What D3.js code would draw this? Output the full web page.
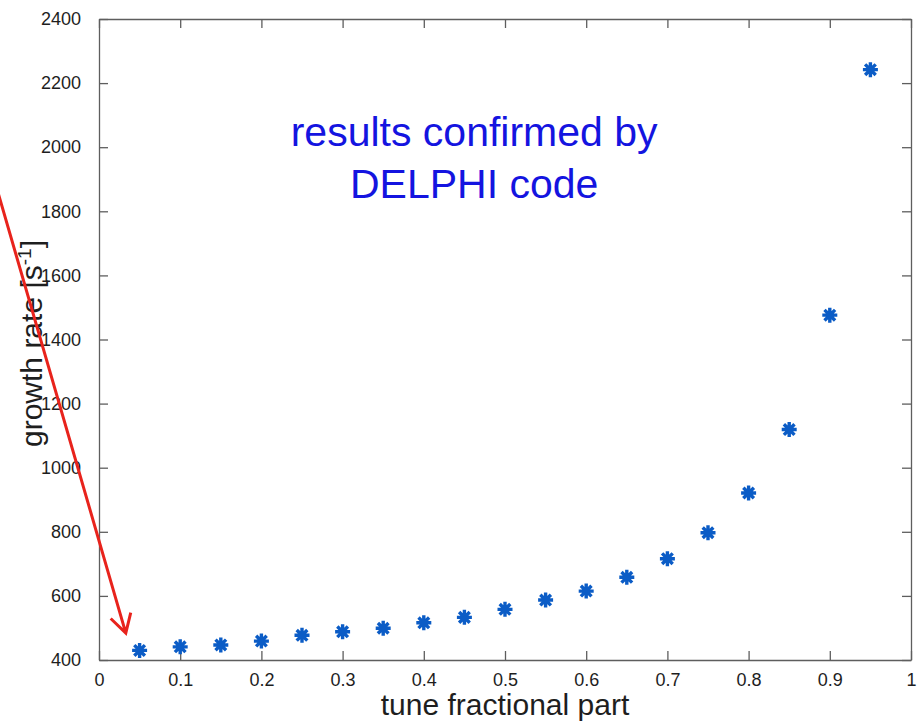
<!DOCTYPE html>
<html>
<head>
<meta charset="utf-8">
<script src="https://cdn.jsdelivr.net/npm/d3@7"></script>
<style>
  body { margin: 0; background: #fff; }
  svg { display: block; font-family: "Liberation Sans", Arial, sans-serif; }
</style>
</head>
<body>
<div id="chart"></div>
<script>
// tune fractional part vs growth rate
const tunes = [0.05, 0.1, 0.15, 0.2, 0.25, 0.3, 0.35, 0.4, 0.45, 0.5, 0.55, 0.6, 0.65, 0.7, 0.75, 0.8, 0.85, 0.9, 0.95];
const growth = [430, 441, 447, 459, 477, 488, 499, 516, 533, 558, 587, 615, 658, 716, 797, 921, 1119, 1476, 2242];
const xTicks = [0, 0.1, 0.2, 0.3, 0.4, 0.5, 0.6, 0.7, 0.8, 0.9, 1];
const yTicks = [400, 600, 800, 1000, 1200, 1400, 1600, 1800, 2000, 2200, 2400];
// red arrow, in data units: start (off the left edge) -> tip
const arrowFrom = [-0.128, 1890];
const arrowTo = [0.033, 484];

const width = 924, height = 728;
const margin = {top: 19, right: 13, bottom: 68, left: 99};
const w = width - margin.left - margin.right;
const h = height - margin.top - margin.bottom;

const svg = d3.select("#chart").append("svg")
    .attr("width", width)
    .attr("height", height);

const g = svg.append("g")
    .attr("transform", `translate(${margin.left},${margin.top})`);

const x = d3.scaleLinear().domain([0, 1]).range([0, w]);
const y = d3.scaleLinear().domain([400, 2400]).range([h, 0]);

const axisColor = "#5e5e5e";
const tickLen = 9;

// axes, matlab style ticks pointing inwards
const xAxis = d3.axisBottom(x).tickValues(xTicks).tickSizeInner(-tickLen).tickSizeOuter(0)
    .tickPadding(13).tickFormat(d => d === 0 || d === 1 ? d3.format("d")(d) : d3.format(".1f")(d));
const yAxis = d3.axisLeft(y).tickValues(yTicks).tickSizeInner(-tickLen).tickSizeOuter(0)
    .tickPadding(18).tickFormat(d3.format("d"));
const xTop = d3.axisTop(x).tickValues(xTicks).tickSizeInner(-tickLen).tickSizeOuter(0).tickFormat("");
const yRight = d3.axisRight(y).tickValues(yTicks).tickSizeInner(-tickLen).tickSizeOuter(0).tickFormat("");

g.append("g").attr("class", "axis").attr("transform", `translate(0,${h})`).call(xAxis);
g.append("g").attr("class", "axis").call(yAxis);
g.append("g").attr("class", "axis").call(xTop);
g.append("g").attr("class", "axis").attr("transform", `translate(${w},0)`).call(yRight);

g.selectAll(".axis path, .axis line")
    .attr("stroke", axisColor)
    .attr("stroke-width", 1.3);
g.selectAll(".axis text")
    .attr("fill", "#1e1e1e")
    .style("font-size", "18px");

// axis labels
g.append("text")
    .attr("x", w / 2)
    .attr("y", h + 55)
    .attr("text-anchor", "middle")
    .attr("fill", "#1e1e1e")
    .style("font-size", "30px")
    .text("tune fractional part");

const yl = g.append("text")
    .attr("transform", `translate(${42 - margin.left},${h / 2 + 4}) rotate(-90)`)
    .attr("text-anchor", "middle")
    .attr("fill", "#1e1e1e")
    .style("font-size", "30px");
yl.append("tspan").text("growth rate [s");
yl.append("tspan").attr("dy", -11).style("font-size", "19px").text("-1");
yl.append("tspan").attr("dy", 11).text("]");

// annotation
const note = g.append("text")
    .attr("text-anchor", "middle")
    .attr("fill", "#1414e0")
    .style("font-size", "41px");
note.append("tspan").attr("x", x(0.462)).attr("y", y(2003)).text("results confirmed by");
note.append("tspan").attr("x", x(0.462)).attr("y", y(1841)).text("DELPHI code");

// data points drawn as asterisks
const star = "M-7.5,0H7.5M0,-7.5V7.5M-5.3,-5.3L5.3,5.3M-5.3,5.3L5.3,-5.3";
g.selectAll(".pt")
    .data(tunes.map((t, i) => ({t: t, v: growth[i]})))
    .enter().append("path")
    .attr("class", "pt")
    .attr("d", star)
    .attr("transform", d => `translate(${x(d.t)},${y(d.v)})`)
    .attr("fill", "none")
    .attr("stroke", "#0b5cc6")
    .attr("stroke-width", 3.4);

// red arrow
const x0 = x(arrowFrom[0]), y0 = y(arrowFrom[1]);
const x1 = x(arrowTo[0]), y1 = y(arrowTo[1]);
const ang = Math.atan2(y0 - y1, x0 - x1);
const headLen = 21, spread = 0.52;

svg.append("g")
    .attr("transform", `translate(${margin.left},${margin.top})`)
    .append("path")
    .attr("d", `M${x0},${y0}L${x1},${y1}` +
        `M${x1 + headLen * Math.cos(ang + spread)},${y1 + headLen * Math.sin(ang + spread)}` +
        `L${x1},${y1}` +
        `L${x1 + headLen * Math.cos(ang - spread)},${y1 + headLen * Math.sin(ang - spread)}`)
    .attr("fill", "none")
    .attr("stroke", "#e8231c")
    .attr("stroke-width", 3)
    .attr("stroke-linejoin", "miter");
</script>
</body>
</html>
